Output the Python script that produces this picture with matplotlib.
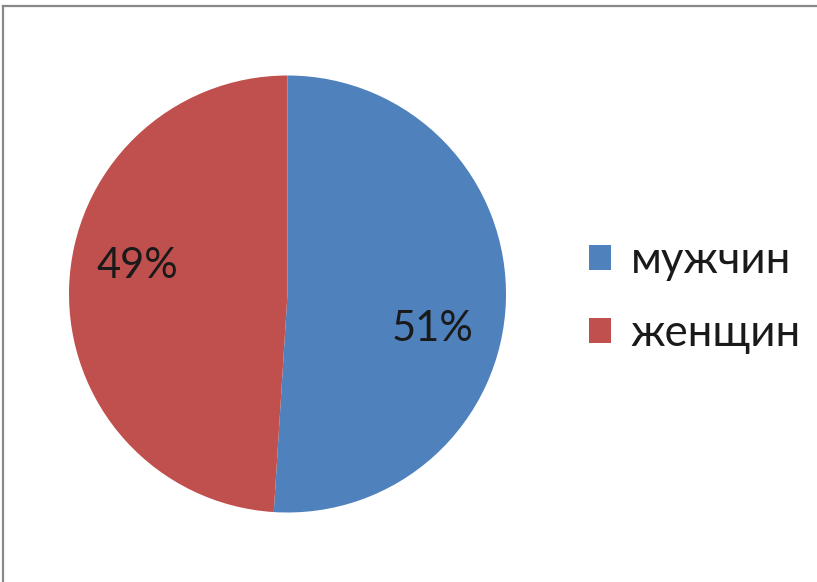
import matplotlib
matplotlib.use("Agg")
import matplotlib.pyplot as plt
from matplotlib.lines import Line2D

categories = ["мужчин", "женщин"]
values = [51, 49]
colors = ["#4F81BD", "#C0504D"]

W, H = 817, 582
fig = plt.figure(figsize=(W / 100, H / 100), dpi=100)
fig.patch.set_facecolor("white")

cx, cy, r = 287.5, 294, 218.5
ax = fig.add_axes([(cx - r) / W, (H - cy - r) / H, 2 * r / W, 2 * r / H])
wedges, _ = ax.pie(values, colors=colors, startangle=90, counterclock=False,
                   radius=1.0, wedgeprops=dict(linewidth=0))
ax.set_xlim(-1, 1)
ax.set_ylim(-1, 1)
ax.set_aspect("equal")
ax.axis("off")

label_pos = [(0.666, -0.160), (-0.689, 0.128)]
for v, (x, y) in zip(values, label_pos):
    ax.text(x, y, f"{v}%", ha="center", va="center", fontsize=30,
            family="Lato", color="#1a1a1a")

leg = fig.legend(wedges, categories, loc="center left",
                 bbox_to_anchor=(589 / W, 1 - 297 / H), frameon=False,
                 prop=dict(family="Lato", size=31.5), handlelength=0.5,
                 handleheight=0.5, handletextpad=0.45, labelspacing=0.75,
                 borderpad=0, borderaxespad=0)
for t in leg.get_texts():
    t.set_color("#1a1a1a")

# frame lines (top and left)
fig.add_artist(Line2D([3.5 / W, 1], [1 - 5.5 / H, 1 - 5.5 / H], color="#888888",
                      linewidth=1.6, transform=fig.transFigure))
fig.add_artist(Line2D([3.5 / W, 3.5 / W], [0, 1 - 5.5 / H], color="#888888",
                      linewidth=1.6, transform=fig.transFigure))

fig.savefig("out.png", dpi=100, facecolor="white")
